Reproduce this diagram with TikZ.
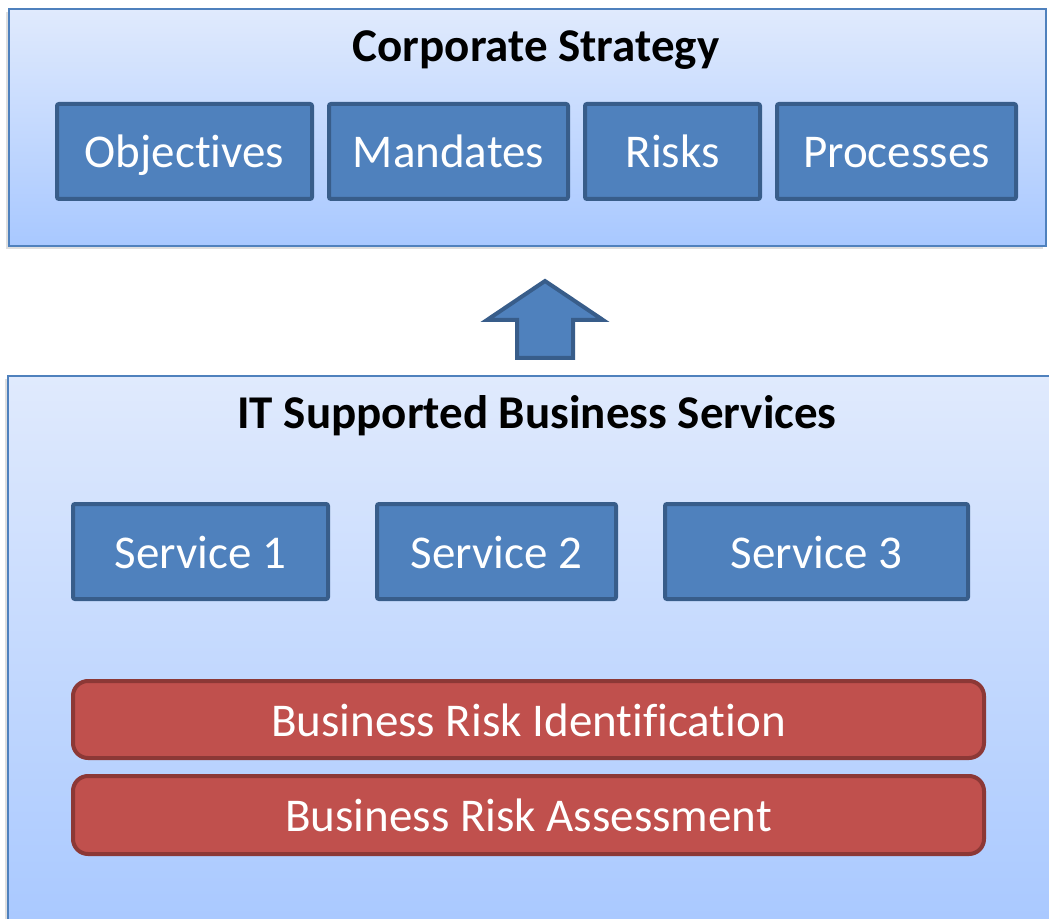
\documentclass[tikz,border=0pt]{standalone}
\usepackage{fontspec}
\setmainfont{Carlito}[Ligatures=NoCommon]
\usetikzlibrary{positioning,shadows}
\definecolor{panelline}{RGB}{79,129,189}
\definecolor{paneltop}{RGB}{224,234,253}
\definecolor{panelbot}{RGB}{168,200,255}
\definecolor{boxfill}{RGB}{79,129,189}
\definecolor{boxline}{RGB}{56,93,138}
\definecolor{riskfill}{RGB}{192,80,77}
\definecolor{riskline}{RGB}{140,56,54}
\tikzset{
panel/.style = {draw=panelline, line width=1pt, rectangle, top color=paneltop, bottom color=panelbot,
  drop shadow={shadow xshift=-1.5pt, shadow yshift=-1.5pt, opacity=0.25}},
paneltitle/.style = {font=\fontsize{23.5}{28}\selectfont\bfseries, text=black},
block/.style = {draw=boxline, fill=boxfill, line width=2pt, rectangle, rounded corners=1pt,
  minimum height=47.5pt, text height=16.5pt, text depth=0pt, text=white,
  font=\fontsize{23.5}{28}\selectfont},
riskbar/.style = {draw=riskline, fill=riskfill, line width=2pt, rectangle, rounded corners=7.5pt,
  minimum width=455.5pt, text height=16.5pt, text depth=0pt, text=white,
  font=\fontsize{23.5}{28}\selectfont},
uparrow/.style = {draw=boxline, fill=boxfill, line width=2pt, line join=miter}
}
\begin{document}
\begin{tikzpicture}[x=0.5pt, y=-0.5pt, node distance=6.5pt]
    \fill[white] (0,0) rectangle (1049,919);
    \useasboundingbox (0,0) rectangle (1049,919);
    % upper panel
    \node [panel, minimum width=518.5pt, minimum height=118.5pt] (strategy) at (527.5,127.5) {};
    \node [paneltitle] (cstitle) at (536,50) {Corporate Strategy};
    \node [block, minimum width=127.5pt] (obj) at (184.5,151.5) {Objectives};
    \node [block, minimum width=119.5pt, right=of obj] (mand) {Mandates};
    \node [block, minimum width=87.5pt, right=of mand] (risks) {Risks};
    \node [block, minimum width=119.5pt, right=of risks] (proc) {Processes};
    % lower panel
    \node [panel, minimum width=526pt, minimum height=279.5pt] (itbs) at (534,655.5) {};
    \node [paneltitle] (itbstitle) at (537,416) {IT Supported Business Services};
    \node [block, minimum width=127.5pt] (srv1) at (200.5,551.5) {Service 1};
    \node [block, minimum width=119.5pt, right=22.5pt of srv1] (srv2) {Service 2};
    \node [block, minimum width=151.5pt, right=22.5pt of srv2] (srv3) {Service 3};
    \node [riskbar, minimum height=38.5pt] (rident) at (528.5,719.5) {Business Risk Identification};
    \node [riskbar, minimum height=39pt, below=7pt of rident] (rassess) {Business Risk Assessment};
    % block arrow between the panels
    \coordinate (tip) at (545,281);
    \draw [uparrow] (tip) -- ++(58,39) -- ++(-30,0) -- ++(0,38) -- ++(-56,0)
        -- ++(0,-38) -- ++(-30,0) -- cycle;
\end{tikzpicture}
\end{document}
